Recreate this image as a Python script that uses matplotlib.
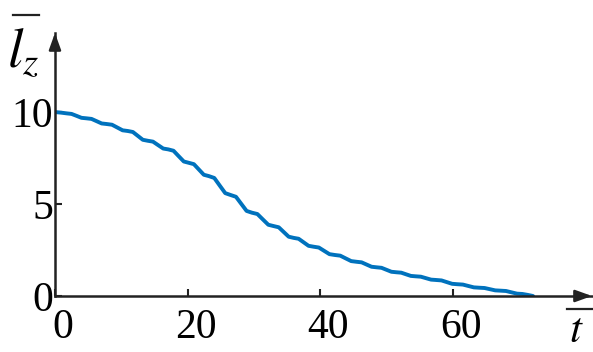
import matplotlib
matplotlib.use("Agg")
import matplotlib.pyplot as plt
from matplotlib.lines import Line2D
from matplotlib.transforms import ScaledTranslation

# krivulja ocitana sa slike (t, l_z)
t = [0.0, 0.9, 1.75, 2.5, 3.25, 4.0, 4.75, 5.51, 6.28, 7.04, 7.8, 8.6, 9.4, 10.2,
     11.0, 11.75, 12.5, 13.25, 14.0, 14.78, 15.55, 16.33, 17.1, 17.88, 18.65, 19.43,
     20.2, 20.95, 21.7, 22.45, 23.2, 24.03, 24.85, 25.68, 26.5, 27.3, 28.1, 28.9,
     29.7, 30.53, 31.35, 32.18, 33.0, 33.75, 34.5, 35.25, 36.0, 36.75, 37.5, 38.25,
     39.0, 39.8, 40.6, 41.4, 42.2, 43.03, 43.85, 44.68, 45.5, 46.25, 47.0, 47.75,
     48.5, 49.25, 50.0, 50.75, 51.5, 52.23, 52.95, 53.68, 54.4, 55.18, 55.95, 56.73,
     57.5, 58.3, 59.1, 59.9, 60.7, 61.53, 62.35, 63.18, 64.0, 64.8, 65.6, 66.4,
     67.2, 68.03, 68.85, 69.68, 70.5, 71.3, 72.1]
lz = [10.00, 9.97, 9.93, 9.90, 9.795, 9.687, 9.66, 9.629, 9.505, 9.381, 9.35, 9.312, 9.16, 9.008,
      8.97, 8.917, 8.705, 8.493, 8.44, 8.393, 8.205, 8.017, 7.97, 7.897, 7.605, 7.313,
      7.24, 7.168, 6.88, 6.592, 6.52, 6.417, 6.005, 5.593, 5.49, 5.394, 5.01, 4.626,
      4.53, 4.457, 4.165, 3.873, 3.80, 3.736, 3.48, 3.224, 3.16, 3.112, 2.92, 2.728,
      2.68, 2.635, 2.455, 2.275, 2.23, 2.193, 2.045, 1.897, 1.86, 1.83, 1.71, 1.59,
      1.56, 1.533, 1.425, 1.317, 1.29, 1.268, 1.18, 1.092, 1.07, 1.05, 0.97, 0.89,
      0.87, 0.847, 0.755, 0.663, 0.64, 0.621, 0.545, 0.469, 0.45, 0.434, 0.37, 0.306,
      0.29, 0.272, 0.20, 0.128, 0.11, 0.06, 0.0]

x_ticks = [0, 20, 40, 60]
y_ticks = [0, 5, 10]

plt.rcParams['font.family'] = ['Liberation Serif', 'DejaVu Serif']
plt.rcParams['mathtext.fontset'] = 'stix'

fig = plt.figure(figsize=(5.93, 3.52), dpi=100)
ax = fig.add_axes([0.0927, 0.1591, 0.9056, 0.7472])

ax.plot(t, lz, color='#0072BD', lw=2.8, solid_capstyle='round', solid_joinstyle='round')

ax.set_xlim(0, 81)
ax.set_ylim(0, 14.3)
ax.set_xticks(x_ticks)
ax.set_yticks(y_ticks)
ax.tick_params(direction='in', length=5, width=1.5, color='#222222', labelsize=30)
ax.tick_params(axis='x', pad=9)
ax.tick_params(axis='y', pad=1.5)
# x oznake su na slici malo pomaknute udesno
for lab in ax.get_xticklabels():
    lab.set_transform(lab.get_transform() + ScaledTranslation(8 / 100, 0, fig.dpi_scale_trans))
for s in ['top', 'right']:
    ax.spines[s].set_visible(False)
for s in ['left', 'bottom']:
    ax.spines[s].set_linewidth(1.8)
    ax.spines[s].set_color('#222222')

# strelice na osima
glava = '-|>,head_length=0.5,head_width=0.18'
ax.annotate('', xy=(1.0, 0), xytext=(0.97, 0), xycoords='axes fraction',
            arrowprops=dict(arrowstyle=glava, color='#222222', lw=1.8,
                            mutation_scale=20, shrinkA=0, shrinkB=0))
ax.annotate('', xy=(0, 1.0), xytext=(0, 0.95), xycoords='axes fraction',
            arrowprops=dict(arrowstyle=glava, color='#222222', lw=1.8,
                            mutation_scale=20, shrinkA=0, shrinkB=0))

# oznake osi s crtom iznad
fig.text(0.012, 1 - 67 / 352, r'$l_z$', fontsize=40, ha='left', va='baseline')
fig.add_artist(Line2D([12.7 / 593, 39 / 593], [1 - 15 / 352] * 2, color='#222222', lw=1.6))
fig.text(576.5 / 593, 1 - 332 / 352, r'$t$', fontsize=31, ha='center', va='center')
fig.add_artist(Line2D([566.7 / 593, 1.0], [1 - 309 / 352] * 2, color='#222222', lw=1.6))

fig.savefig('out.png', dpi=100)
